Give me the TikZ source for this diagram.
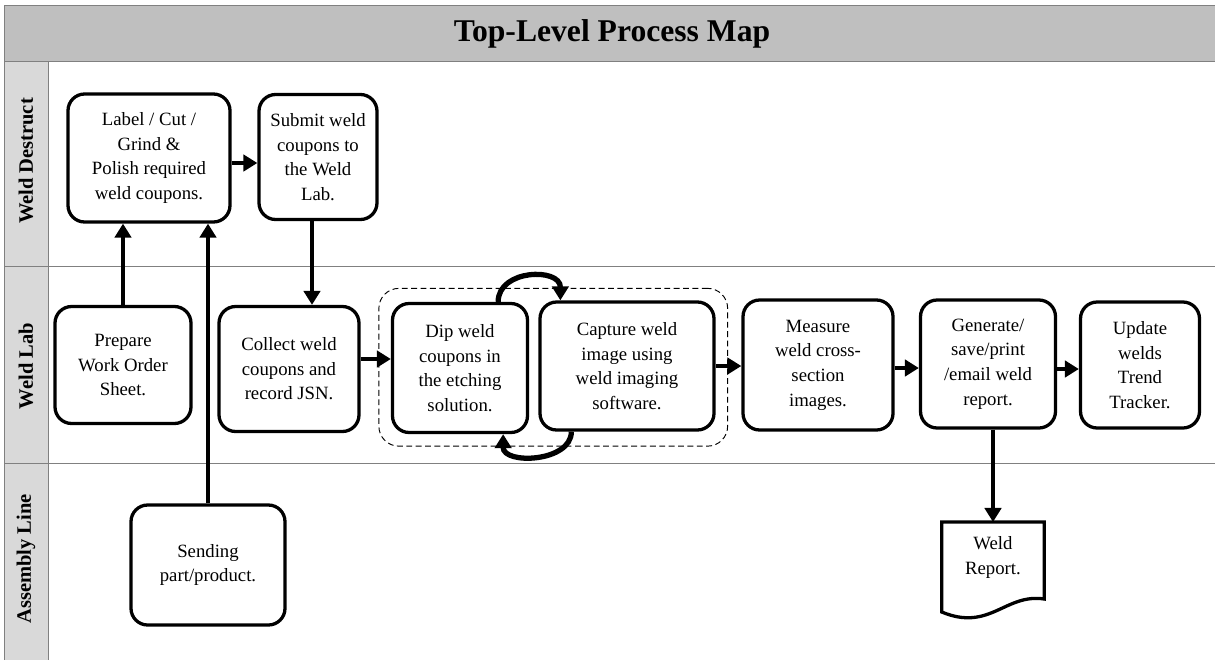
\documentclass[tikz,border=0pt]{standalone}
\usepackage{fontspec}
\setmainfont{Liberation Serif}
\usetikzlibrary{calc,fit,arrows.meta}
\begin{document}
\begin{tikzpicture}[x=0.03cm,y=-0.03cm,
  stepbox/.style={draw,line width=2.8pt,rounded corners=0.5cm,align=center,
    font=\fontsize{16}{21}\selectfont,inner sep=0pt},
  flow/.style={line width=3.8pt,-{Triangle[length=12pt,width=14pt]}},
  lane/.style={draw=black!50,line width=0.8pt},
  lanename/.style={rotate=90,font=\fontsize{17.5}{21}\selectfont\bfseries}]
\useasboundingbox (0,0) rectangle (1215,660);
% swim lanes
\fill[black!25] (4,5) rectangle (1215,61);
\fill[black!15] (4,61) rectangle (48,660);
\draw[lane] (1215,5) -- (4,5) -- (4,660);
\draw[lane] (48,61) -- (48,660);
\draw[lane] (4,61) -- (1215,61);
\draw[lane] (4,266) -- (1215,266);
\draw[lane] (4,463) -- (1215,463);
\node[font=\fontsize{27}{32}\selectfont\bfseries] (title) at (612,34) {Top-Level Process Map};
\node[lanename] (destruct) at (26,161) {Weld Destruct};
\node[lanename] (weldlab) at (26,366) {Weld Lab};
\node[lanename] (assembly) at (26,559) {Assembly Line};
% steps
\node[stepbox,minimum width=4.86cm,minimum height=3.84cm] (lab) at (149,158)
  {Label / Cut /\\Grind \&\\Polish required\\weld coupons.};
\node[stepbox,minimum width=3.54cm,minimum height=3.75cm] (sub) at (318,157)
  {Submit weld\\coupons to\\the Weld\\Lab.};
\node[stepbox,minimum width=4.08cm,minimum height=3.51cm] (prep) at (123,365)
  {Prepare\\Work Order\\Sheet.};
\node[stepbox,minimum width=4.2cm,minimum height=3.75cm] (coll) at (289,369)
  {Collect weld\\coupons and\\record JSN.};
\node[stepbox,minimum width=4.05cm,minimum height=3.87cm] (dip) at (460,368)
  {Dip weld\\coupons in\\the etching\\solution.};
\node[stepbox,minimum width=5.22cm,minimum height=3.84cm] (cap) at (627,366)
  {Capture weld\\image using\\weld imaging\\software.};
\node[stepbox,minimum width=4.5cm,minimum height=3.9cm] (meas) at (818,365)
  {Measure\\weld cross-\\section\\images.};
\node[stepbox,minimum width=4.05cm,minimum height=3.84cm] (gen) at (988,364)
  {Generate/\\save/print\\/email weld\\report.};
\node[stepbox,minimum width=3.57cm,minimum height=3.78cm] (upd) at (1140,365)
  {Update\\welds\\Trend\\Tracker.};
\node[stepbox,minimum width=4.62cm,minimum height=3.6cm] (send) at (208,565)
  {Sending\\part/product.};
\node[align=center,font=\fontsize{16}{21}\selectfont,inner sep=0pt,
  minimum width=3.06cm,minimum height=2.1cm,anchor=north] (rep) at (993,522)
  {Weld\\Report.};
\draw[line width=2.8pt] (rep.north west) -- (rep.north east) -- ($(rep.north east)+(0,77)$)
  .. controls ($(rep.north east)+(-39,71)$) and ($(rep.north west)+(48,110)$) .. ($(rep.north west)+(0,90)$) -- cycle;
\node[draw,dashed,line width=0.8pt,dash pattern=on 5pt off 3pt,rounded corners=0.6cm,
  inner sep=0.36cm,fit=(dip)(cap)] (grp) {};
% connectors
\draw[flow] (prep.north) -- (prep.north |- lab.south);
\draw[flow] (send.north) -- (send.north |- lab.south);
\draw[flow] ([yshift=-0.15cm]lab.east) -- ([yshift=-0.15cm]lab.east -| sub.west);
\draw[flow] ([xshift=-0.18cm]sub.south) -- ([xshift=-0.18cm]sub.south |- coll.north);
\draw[flow] ([yshift=0.3cm]coll.east) -- ([yshift=0.3cm]coll.east -| dip.west);
\draw[flow,line width=4.5pt] ($(dip.north east)+(-31,0)$) to[out=90,in=90,looseness=1.35] ($(cap.north west)+(22,0)$);
\draw[flow,line width=4.5pt] ($(cap.south west)+(33,0)$) to[out=-90,in=-90,looseness=1.15] ($(dip.south east)+(-26,0)$);
\draw[flow] (cap.east) -- (cap.east -| meas.west);
\draw[flow] ([yshift=-0.09cm]meas.east) -- ([yshift=-0.09cm]meas.east -| gen.west);
\draw[flow] ([yshift=-0.15cm]gen.east) -- ([yshift=-0.15cm]gen.east -| upd.west);
\draw[flow] (rep.north |- gen.south) -- (rep.north);
\end{tikzpicture}
\end{document}
